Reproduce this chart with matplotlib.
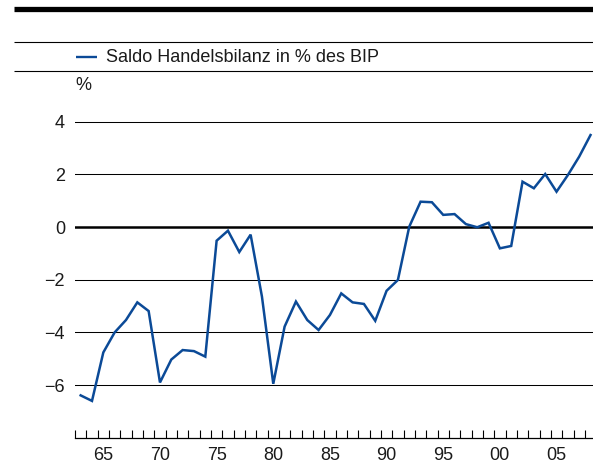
import matplotlib
matplotlib.use("Agg")
import matplotlib.pyplot as plt
from matplotlib.lines import Line2D
from matplotlib.ticker import FixedLocator, FixedFormatter, NullFormatter

plt.rcParams['font.family'] = ['Liberation Sans', 'DejaVu Sans']

# Trade balance in % of GDP, 1963-2008
years = list(range(1963, 2009))
saldo = [-6.39, -6.6, -4.76, -4.0, -3.53, -2.86, -3.19, -5.9, -5.03, -4.67,
         -4.71, -4.92, -0.52, -0.14, -0.95, -0.29, -2.64, -5.95, -3.78, -2.83,
         -3.53, -3.91, -3.34, -2.52, -2.86, -2.92, -3.56, -2.42, -2.01, 0.01,
         0.96, 0.94, 0.46, 0.49, 0.11, -0.01, 0.16, -0.81, -0.72, 1.72,
         1.47, 2.01, 1.34, 1.97, 2.67, 3.49]

y_ticks = [-6, -4, -2, 0, 2, 4]
y_tick_labels = ['\u22126', '\u22124', '\u22122', '0', '2', '4']
x_label_years = [1965, 1970, 1975, 1980, 1985, 1990, 1995, 2000, 2005]
x_labels = ['65', '70', '75', '80', '85', '90', '95', '00', '05']
legend_label = 'Saldo Handelsbilanz in % des BIP'

W, H = 593, 463
fig = plt.figure(figsize=(W / 100, H / 100), dpi=100)

def fx(px):
    return px / W

def fy(py):
    return 1 - py / H

line_color = '#0b4a97'
text_color = '#1a1a1a'
fs = 13

# header rules
fig.add_artist(Line2D([fx(14), 1], [fy(8.5), fy(8.5)], color='black', lw=3.8,
                      solid_capstyle='butt'))
for yy in (42.3, 71):
    fig.add_artist(Line2D([fx(14), 1], [fy(yy), fy(yy)], color='black', lw=0.8,
                          solid_capstyle='butt'))

# legend entry
fig.add_artist(Line2D([fx(76), fx(97)], [fy(56.5), fy(56.5)], color=line_color,
                      lw=1.7, solid_capstyle='butt'))
fig.text(fx(106), fy(57), legend_label, fontsize=fs, color=text_color,
         va='center', ha='left')

# unit label
fig.text(fx(75), fy(85), '%', fontsize=fs, color=text_color, va='center', ha='left')

left_px, right_px, top_px, bottom_px = 75, 593, 110, 438
ax = fig.add_axes([fx(left_px), fy(bottom_px), fx(right_px) - fx(left_px),
                   fy(top_px) - fy(bottom_px)])
ax.set_facecolor('none')

px_per_year = 11.33
x0 = 1962.5
ax.set_xlim(x0, x0 + (right_px - left_px) / px_per_year)
y_zero_px, px_per_unit = 227, 26.35
ax.set_ylim((y_zero_px - bottom_px) / px_per_unit, (y_zero_px - top_px) / px_per_unit)

for v in y_ticks:
    ax.axhline(v, color='black', lw=1.8 if v == 0 else 0.75, zorder=1)

ax.plot(years, saldo, color=line_color, lw=1.8, zorder=3, solid_joinstyle='miter')

for s in ('left', 'right', 'top'):
    ax.spines[s].set_visible(False)
ax.spines['bottom'].set_linewidth(0.9)

ax.set_yticks(y_ticks)
ax.set_yticklabels(y_tick_labels)
ax.tick_params(axis='y', length=0, pad=7.2, labelsize=fs, labelcolor=text_color)

boundaries = [y - 0.5 for y in years]
ax.xaxis.set_major_locator(FixedLocator(boundaries))
ax.xaxis.set_major_formatter(NullFormatter())
ax.xaxis.set_minor_locator(FixedLocator(x_label_years))
ax.xaxis.set_minor_formatter(FixedFormatter(x_labels))
ax.tick_params(axis='x', which='major', direction='in', length=5.8, width=0.8,
               color='black')
ax.tick_params(axis='x', which='minor', length=0, pad=6.8, labelsize=fs,
               labelcolor=text_color)

fig.savefig('out.png', dpi=100)
